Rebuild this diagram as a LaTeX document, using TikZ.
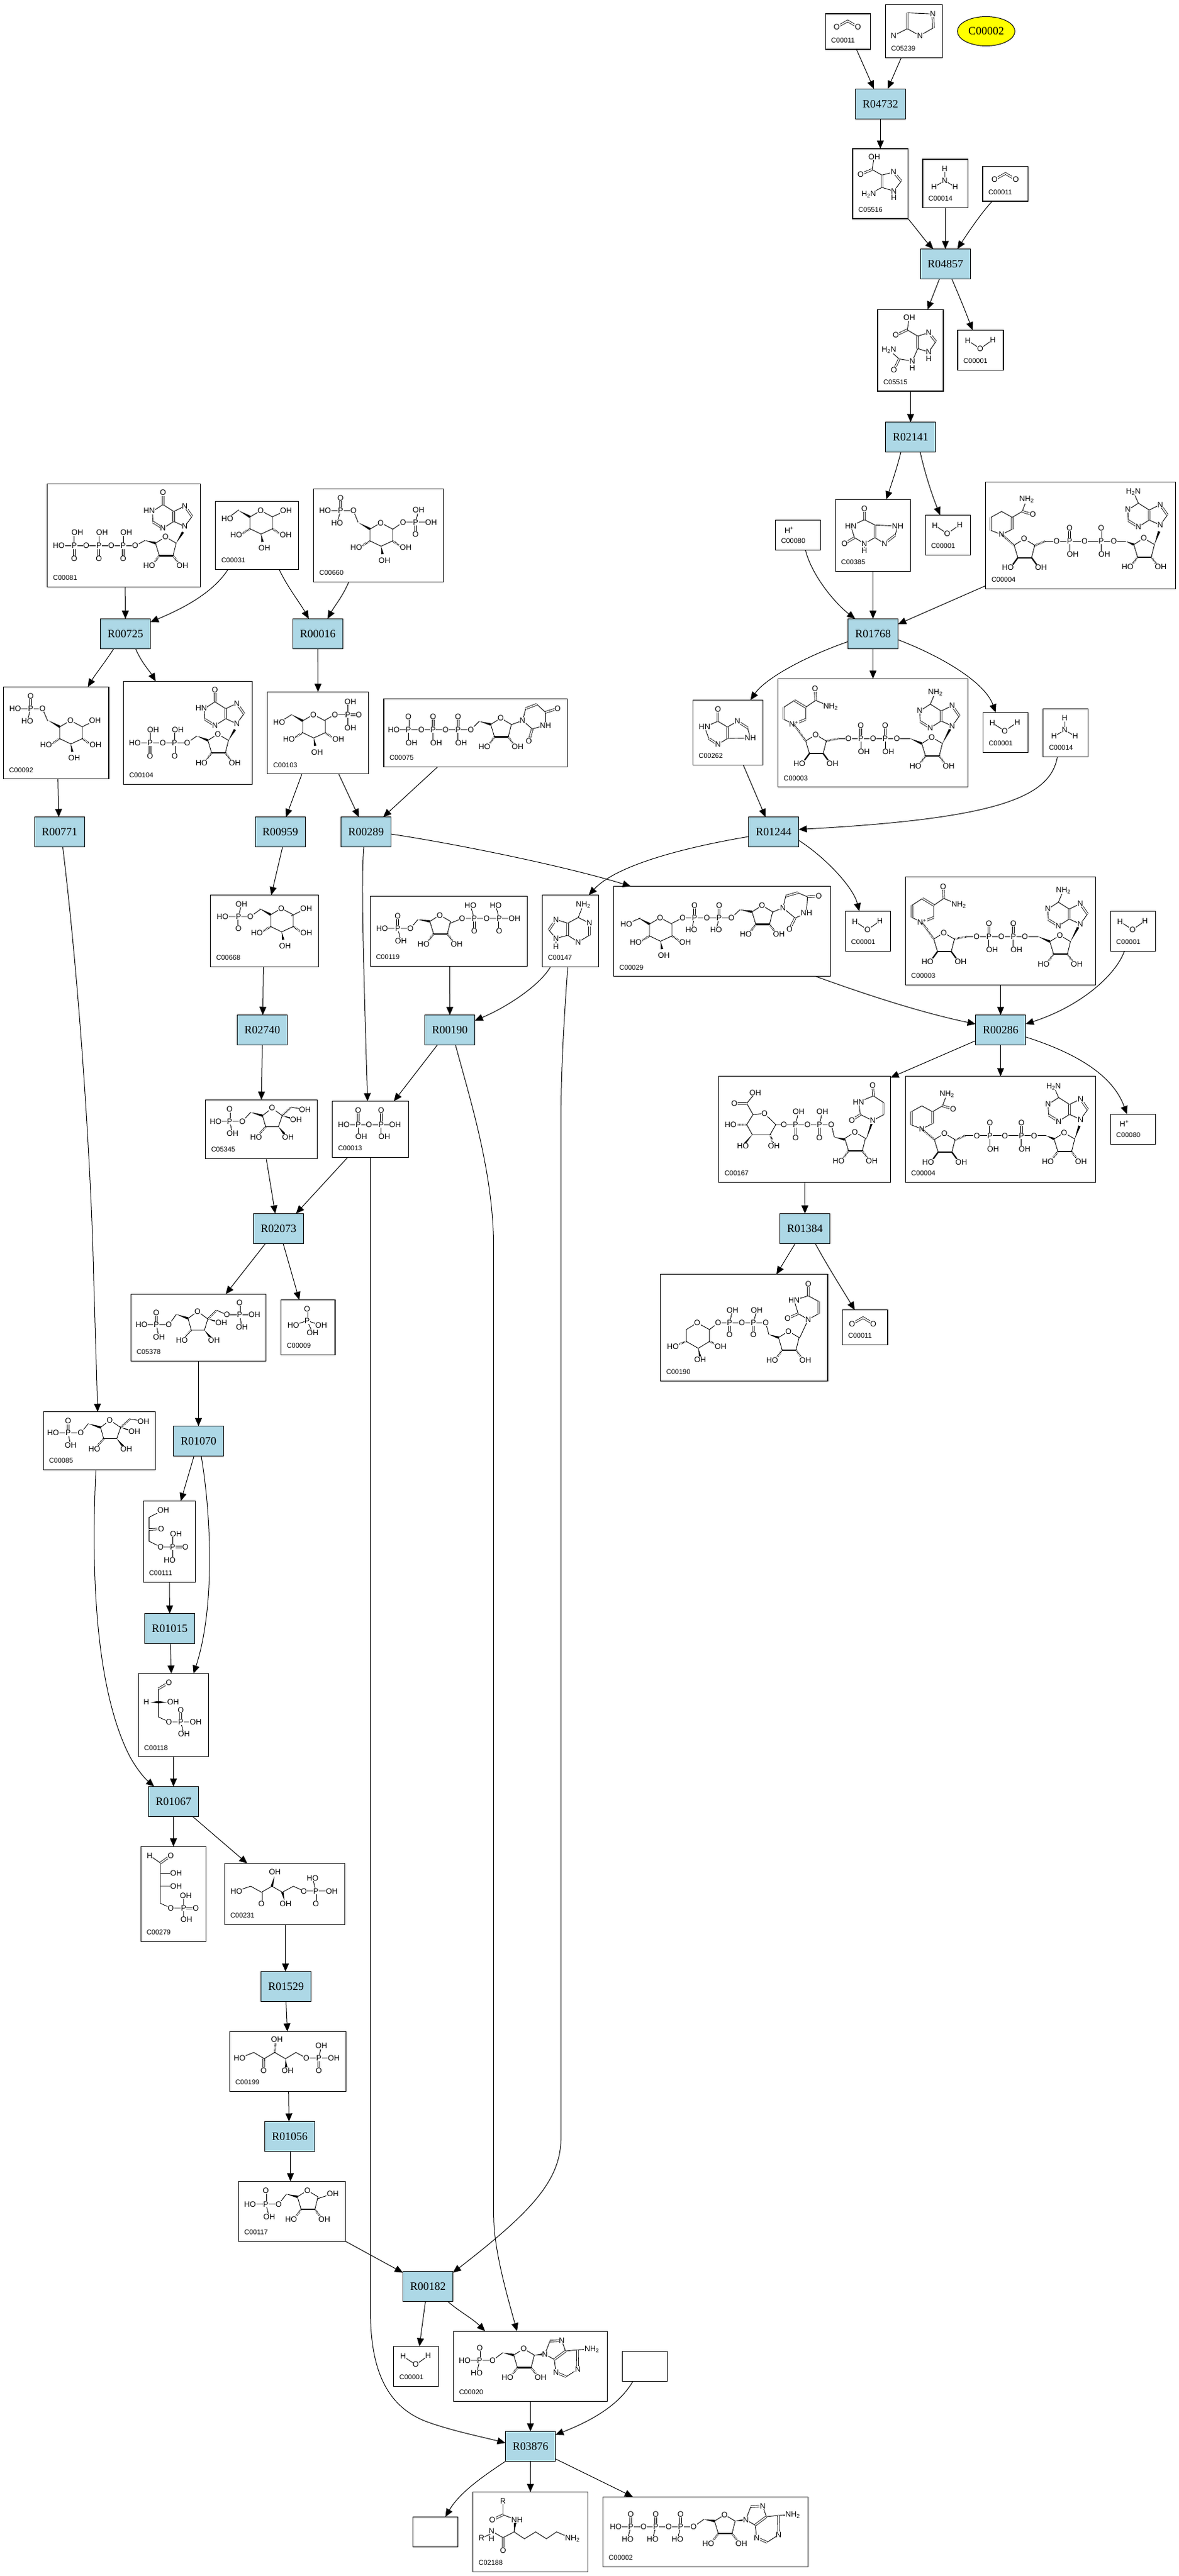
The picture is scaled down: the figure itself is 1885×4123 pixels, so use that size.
\documentclass[tikz,border=0pt]{standalone}
\usepackage{fontspec}
\setmainfont{Liberation Serif}
\setsansfont{Liberation Sans}
\usetikzlibrary{arrows.meta,calc,shapes.geometric}
\definecolor{cReact}{HTML}{ADD8E6}
\definecolor{cStart}{HTML}{FFFF00}
\tikzset{
	react/.style={draw,fill=cReact,line width=1.2pt,inner sep=0pt,outer sep=0pt,minimum width=80pt,minimum height=48pt,font=\fontsize{18}{20}\selectfont},
	cpdbox/.style={draw,fill=white,line width=1.2pt,inner sep=0pt,outer sep=0pt},
	cpdid/.style={anchor=west,inner sep=0pt,font=\sffamily\fontsize{11}{12}\selectfont},
	atomlab/.style={fill=white,inner sep=.6pt,font=\sffamily\fontsize{12.5}{13}\selectfont},
	edge/.style={line width=1pt,-{Triangle[length=13pt,width=11pt]}},
	bond/.style={line width=.9pt},
	bondb/.style={line width=2.2pt},
	dbl/.style={line width=.8pt,double,double distance=2pt},
	hashb/.style={line width=3pt,dash pattern=on .8pt off 1.4pt}
}
\newcount\atomno
\def\atm(#1,#2)#3{\global\advance\atomno by 1 \node[atomlab] (atom\the\atomno) at (#1,#2) {#3};}
\def\wdg(#1)(#2){\fill (#1) -- ($(#2)!1.9pt!90:(#1)$) -- ($(#2)!1.9pt!-90:(#1)$) -- cycle;}
\newcommand{\rct}[3]{\node[react] (#1) at (#2,#3) {#1};}
\newcommand{\cpd}[6]{\node[cpdbox,minimum width={(#5-#3)*1pt},minimum height={(#6-#4)*1pt}] (#1) at ({(#3+#5)/2},{(#4+#6)/2}) {};
	\node[cpdid] (#1id) at (#3+9,#6-14.5) {#2};}
\newcommand{\blankcpd}[5]{\node[cpdbox,minimum width={(#4-#2)*1pt},minimum height={(#5-#3)*1pt}] (#1) at ({(#2+#4)/2},{(#3+#5)/2}) {};}
\newcommand{\ribose}[3][hashb]{\begin{scope}[shift={(#2,#3)}]
	\draw[bond] (0,0)--(17,10)--(12,30) (0,0)--(-16,10)--(-10,30);
	\draw[bondb] (-10,30)--(12,30);
	\draw[#1] (-10,30)--(-18,41) (12,30)--(20,41);
	\atm(0,0){O} \atm(-26,46){HO} \atm(27,46){OH}
\end{scope}}
\newcommand{\pyran}[2]{\begin{scope}[shift={(#1,#2)}]
	\draw[bond] (0,0)--(19,10)--(19,29)--(.6,37.5)--(-17,29)--(-17,10)--(0,0);
	\wdg(-35,0)(-17,10)
	\draw[hashb] (-17,29)--(-30,37) (19,29)--(31,37);
	\wdg(.6,37.5)(3,50)
	\atm(0,0){O} \atm(-39,39){HO} \atm(40,39){OH} \atm(6,60){OH}
\end{scope}}
\newcommand{\phA}[2]{\begin{scope}[shift={(#1,#2)}]
	\draw[dbl] (0,-19)--(0,0); \draw[bond] (0,0)--(0,19);
	\atm(0,-21){O} \atm(5,21){OH} \atm(0,0){P}
\end{scope}}
\newcommand{\phB}[2]{\begin{scope}[shift={(#1,#2)}]
	\draw[dbl] (0,19)--(0,0); \draw[bond] (0,0)--(0,-19);
	\atm(0,21){O} \atm(5,-21){OH} \atm(0,0){P}
\end{scope}}
\newcommand{\purring}[2]{\begin{scope}[shift={(#1,#2)}]
	\draw[bond] (0,0)--(11.5,-16) (0,-32.6)--(-17.7,-24) (-17.7,-8)--(0,0) (-17.7,-24)--(-35,-35)--(-52,-24)--(-51,-7) (-35,3)--(-17.7,-8);
	\draw[dbl] (11.5,-16)--(0,-32.6) (-17.7,-24)--(-17.7,-8) (-51,-7)--(-35,3);
	\atm(0,0){N} \atm(0,-32.6){N} \atm(-35,3){N}
\end{scope}}
\newcommand{\hypox}[2]{\purring{#1}{#2}\begin{scope}[shift={(#1,#2)}]
	\draw[dbl] (-35,-35)--(-35,-53);
	\atm(-35,-54){O} \atm(-57,-25){HN}
\end{scope}}
\newcommand{\adenV}[5]{\purring{#1}{#2}\begin{scope}[shift={(#1,#2)}]
	\draw[bond] (-35,-35)--(#3,#4);
	\atm(-52,-25){N} \atm(#3,#4){#5}
\end{scope}}
\newcommand{\adenH}[2]{\begin{scope}[shift={(#1,#2)}]
	\draw[bond] (0,0)--(8,-21) (27,-22)--(33,-5) (15,8.5)--(0,0) (33,-5)--(52,-7)--(75,-8) (52.6,24)--(34,36) (17.6,29)--(15,8.5);
	\draw[dbl] (8,-21)--(27,-22) (33,-5)--(15,8.5) (52,-7)--(52.6,24) (34,36)--(17.6,29);
	\atm(0,0){N} \atm(27,-22){N} \atm(52.6,24){N} \atm(17.6,29){N} \atm(75,-8){NH\textsubscript{2}}
\end{scope}}
\newcommand{\cotwo}[2]{\begin{scope}[shift={(#1,#2)}]
	\draw[dbl] (-17.5,9.8)--(0,0)--(16.5,9.8);
	\atm(-17.5,9.8){O} \atm(16.5,9.8){O}
\end{scope}}
\newcommand{\ammonia}[2]{\begin{scope}[shift={(#1,#2)}]
	\draw[bond] (0,-19)--(0,0) (-17,10)--(0,0)--(17,10);
	\atm(0,-19){H} \atm(0,0){N} \atm(-17,10){H} \atm(17,10){H}
\end{scope}}
\newcommand{\water}[2]{\begin{scope}[shift={(#1,#2)}]
	\draw[bond] (-20,-13)--(0,0)--(20,-14);
	\atm(-20,-13){H} \atm(0,0){O} \atm(20,-14){H}
\end{scope}}
\newcommand{\nadplus}[2]{\begin{scope}[shift={(#1,#2)}]
	\draw[bond] (0,0)--(-16,-7.6) (-16,-27)--(1,-38) (19,-27)--(19,-7.6) (19,-27)--(35,-38)--(59,-28);
	\draw[dbl] (-16,-7.6)--(-16,-27) (1,-38)--(19,-27) (19,-7.6)--(0,0) (35,-38)--(34,-57);
	\atm(34,-57){O} \atm(59,-28){NH\textsubscript{2}} \atm(0,0){N\textsuperscript{+}}
	\draw[hashb] (0,0)--(19,27) (52,27)--(72,23);
	\ribose[bondb]{35}{17}
	\draw[bond] (72,23)--(186,23);
	\atm(87.5,23){O} \phA{107.2}{23} \atm(127,23){O} \phA{146.2}{23} \atm(164.8,23){O}
	\wdg(186,23)(204.5,31)
	\ribose{220.7}{21}
	\wdg(237.7,31)(250,8)
	\adenV{253.4}{3}{-27}{-54}{NH\textsubscript{2}}
\end{scope}}
\newcommand{\nadh}[2]{\begin{scope}[shift={(#1,#2)}]
	\draw[bond] (0,0)--(-17,-6.6) (-17,-27.6)--(0,-37)--(17,-27.6) (17,-8.6)--(0,0) (17,-27.6)--(33,-37)--(40,-56);
	\draw[dbl] (-17,-6.6)--(-17,-27.6) (17,-27.6)--(17,-8.6) (33,-37)--(50,-32);
	\atm(40,-56){NH\textsubscript{2}} \atm(50,-32){O} \atm(0,0){N}
	\draw[hashb] (0,0)--(20,17) (52.5,18)--(69.4,10.7);
	\ribose[bondb]{36}{7}
	\draw[bond] (69.4,10.7)--(199.2,10.7);
	\atm(88.1,10.7){O} \phA{108.8}{10.7} \atm(132.7,10.7){O} \phA{159.2}{10.7} \atm(179.5,10.7){O}
	\wdg(199.2,11)(211.5,16)
	\ribose{227.5}{6}
	\wdg(244.5,16)(252,-5)
	\adenV{253.8}{-15.3}{-43}{-53}{H\textsubscript{2}N}
\end{scope}}

\begin{document}
\begin{tikzpicture}[x=1pt,y=-1pt]
		\useasboundingbox (0,0) rectangle (1885,4123);
		% reactions
		\rct{R04732}{1408.3}{166.3}
		\rct{R04857}{1512.3}{422.5}
		\rct{R02141}{1456.6}{699.7}
		\rct{R00725}{200.6}{1014.4}
		\rct{R00016}{508.4}{1014.4}
		\rct{R01768}{1396.5}{1014.4}
		\rct{R00771}{95.4}{1331.7}
		\rct{R00959}{448.4}{1331.7}
		\rct{R00289}{585.7}{1331.7}
		\rct{R01244}{1237.6}{1331.7}
		\rct{R02740}{419.6}{1648.5}
		\rct{R00190}{719.6}{1648.5}
		\rct{R00286}{1600.6}{1648.5}
		\rct{R02073}{445.6}{1966.4}
		\rct{R01384}{1287.6}{1966.4}
		\rct{R01070}{317.5}{2306.6}
		\rct{R01015}{271.5}{2606.6}
		\rct{R01067}{277.5}{2883.5}
		\rct{R01529}{457.5}{3179.5}
		\rct{R01056}{463.5}{3419.5}
		\rct{R00182}{684.5}{3659.5}
		\rct{R03876}{848.5}{3915.5}
		% compounds
		\node[draw,ellipse,fill=cStart,line width=1pt,inner sep=0pt,outer sep=0pt,minimum width=92pt,minimum height=47pt,font=\fontsize{18}{20}\selectfont] (C00002) at (1577.5,50) {C00002};
		\cpd{C00011a}{C00011}{1320.5}{22}{1392.6}{79}
		\cpd{C05239}{C05239}{1416.5}{7.6}{1507.6}{92.4}
		\cpd{C05516}{C05516}{1364}{238}{1452.5}{350}
		\cpd{C00014a}{C00014}{1476}{255}{1548.5}{332.6}
		\cpd{C00011b}{C00011}{1572}{266.5}{1644.5}{322}
		\cpd{C05515}{C05515}{1404}{495.5}{1509}{626}
		\cpd{C00001a}{C00001}{1532}{528.6}{1605}{592.4}
		\cpd{C00081}{C00081}{75.7}{774.4}{320.5}{939.4}
		\cpd{C00031}{C00031}{344.8}{802.4}{477.5}{911.4}
		\cpd{C00660}{C00660}{501.7}{782.5}{709.6}{931.4}
		\cpd{C00092}{C00092}{5.5}{1099.4}{174}{1246.7}
		\cpd{C00104}{C00104}{197.6}{1090.5}{403.6}{1255.5}
		\cpd{C00103}{C00103}{427.8}{1107.4}{589.6}{1238.7}
		\cpd{C00075}{C00075}{613.9}{1118.5}{907.8}{1227.5}
		\cpd{C00385}{C00385}{1336.4}{799.3}{1456.6}{914.5}
		\cpd{C00080a}{C00080}{1240.4}{832.2}{1312.7}{880.4}
		\cpd{C00001b}{C00001}{1480.3}{824.6}{1552.5}{888.5}
		\cpd{C00004a}{C00004}{1576.8}{771.4}{1880.5}{942.4}
		\cpd{C00262}{C00262}{1108.4}{1120.4}{1220.7}{1224.5}
		\cpd{C00003a}{C00003}{1244.4}{1086.3}{1548.6}{1259.7}
		\cpd{C00001c}{C00001}{1572.3}{1140.3}{1644.5}{1204.6}
		\cpd{C00014b}{C00014}{1668.8}{1134.6}{1740.5}{1211.5}
		\cpd{C00668}{C00668}{336.7}{1432.6}{509.7}{1547.4}
		\cpd{C00119}{C00119}{592.3}{1434.5}{843.4}{1546.5}
		\cpd{C00147}{C00147}{867.3}{1432.6}{957.7}{1547.4}
		\cpd{C00029}{C00029}{981.6}{1418.5}{1328.7}{1562.7}
		\cpd{C00001d}{C00001}{1352.5}{1458.6}{1424.7}{1522.6}
		\cpd{C00003b}{C00003}{1448.5}{1403.3}{1752.6}{1576.2}
		\cpd{C00001e}{C00001}{1776.5}{1458.6}{1848.6}{1522.6}
		\cpd{C05345}{C05345}{328.6}{1760.2}{507.7}{1854.5}
		\cpd{C00013}{C00013}{531.6}{1762.6}{653.6}{1852.6}
		\cpd{C00167}{C00167}{1149.8}{1722.6}{1424.7}{1892.3}
		\cpd{C00004b}{C00004}{1448.5}{1722.6}{1752.6}{1892.3}
		\cpd{C00080b}{C00080}{1776.5}{1783.3}{1848.6}{1831.6}
		\cpd{C00190}{C00190}{1056.7}{2039.7}{1323.9}{2210.5}
		\cpd{C00011c}{C00011}{1347.7}{2096.7}{1419.9}{2152.5}
		\cpd{C05378}{C05378}{209.3}{2071.4}{425.7}{2178.6}
		\cpd{C00009}{C00009}{449.6}{2080.6}{535.9}{2168.4}
		\cpd{C00085}{C00085}{69.3}{2259.7}{248.6}{2352.5}
		\cpd{C00111}{C00111}{229.3}{2402.5}{312.7}{2532.6}
		\cpd{C00118}{C00118}{221.5}{2678.6}{333.8}{2811.7}
		\cpd{C00279}{C00279}{225.3}{2955.4}{329.7}{3107.5}
		\cpd{C00231}{C00231}{359.3}{2982.7}{551.7}{3080.3}
		\cpd{C00199}{C00199}{367.3}{3251.5}{553.7}{3347.6}
		\cpd{C00117}{C00117}{381.7}{3491.3}{552.7}{3587.3}
		\cpd{C00001f}{C00001}{629.7}{3755.4}{701.4}{3819.3}
		\cpd{C00020}{C00020}{725.3}{3731.2}{971.6}{3843.4}
		\blankcpd{blankA}{995.6}{3763.4}{1067.3}{3811.6}
		\blankcpd{blankB}{660.3}{4028.3}{732.5}{4076.2}
		\cpd{C02188}{C02188}{756.4}{3988.5}{940.5}{4116.4}
		\cpd{C00002b}{C00002}{964.5}{3996.2}{1292.6}{4108.3}
		% small molecules
		\cotwo{1356}{33.5} \cotwo{1608.4}{277.7} \cotwo{1380.5}{2109}
		\ammonia{1511.2}{289.3} \ammonia{1703.2}{1168.6}
		\water{1568}{558} \water{1515.3}{854} \water{1607.3}{1170} \water{1387.7}{1488} \water{1811.6}{1488} \water{665}{3784.6}
		\atm(1262.4,848.3){H\textsuperscript{+}} \atm(1798.5,1798.5){H\textsuperscript{+}}
		% C05239
		\draw[bond] (1492.2,22.3)--(1451.3,20.5) (1451.3,46)--(1471.5,57)--(1493,44.6) (1451.3,46)--(1429.4,57);
		\draw[dbl] (1451.3,20.5)--(1451.3,46) (1493,44.6)--(1492.2,22.3);
		\atm(1492.2,22.3){N} \atm(1471.5,57){N} \atm(1429.4,57){N}
		% C05516
		\draw[bond] (1398.6,251)--(1395,271.4)--(1410.8,280.3)--(1429.4,275.4) (1441.6,290)--(1429.8,305.8)--(1410.8,300)--(1389.7,311);
		\draw[dbl] (1395,271.4)--(1376.8,279) (1410.8,280.3)--(1410.8,300) (1429.4,275.4)--(1441.6,290);
		\draw[bond] (1429.8,305.8)--(1429.8,316);
		\atm(1398.6,251){OH} \atm(1376.8,279){O} \atm(1429.4,275.4){N} \atm(1429.8,305.8){N} \atm(1429.8,316){H} \atm(1389.7,311){H\textsubscript{2}N}
		% C05515
		\draw[bond] (1454.5,508.5)--(1451.3,528)--(1468,538)--(1485.7,532.6) (1497,546.8)--(1485.7,563.4)--(1468,558)--(1459.4,578)--(1438.3,574.5)--(1422,560);
		\draw[dbl] (1451.3,528)--(1433,536.6) (1468,538)--(1468,558) (1485.7,532.6)--(1497,546.8) (1438.3,574.5)--(1430,592.4);
		\atm(1454.5,508.5){OH} \atm(1433,536.6){O} \atm(1485.7,532.6){N} \atm(1485.7,563.4){N} \atm(1485.7,574){H} \atm(1459.4,578){N} \atm(1459.4,589){H} \atm(1422,560){H\textsubscript{2}N} \atm(1430,592.4){O}
		% C00081
		\draw[bond] (94,873.6)--(216,873.6)--(232,865);
		\atm(94,873.6){HO} \phB{118.8}{873.6} \atm(138,873.6){O} \phB{158.2}{873.6} \atm(178,873.6){O} \phB{197}{873.6} \atm(216.3,873.6){O}
		\wdg(232,865)(248.8,869.4)
		\ribose{264.8}{859.4} \wdg(281.8,869.4)(292.7,851.7)
		\hypox{295.7}{842.6}
		% C00031
		\draw[bond] (382,816)--(363.6,830) (436,827)--(457.5,817.3);
		\pyran{417}{817.3} \atm(363.6,830.3){HO} \atm(457.5,817.3){OH}
		% C00660
		\draw[bond] (520,817.3)--(565.4,817.3)--(572.7,835.7) (544.8,817.3)--(539.3,836.8) (628.4,847)--(644.8,835.7)--(689.6,835.7) (664.8,835.7)--(669.6,816.5);
		\draw[dbl] (544.8,817.3)--(544.8,797.4) (664.8,835.7)--(664.8,854.8);
		\pyran{609}{836.8}
		\atm(520,817.3){HO} \atm(544.8,817.3){P} \atm(565.4,817.3){O} \atm(544.8,797.4){O} \atm(539.3,836.8){HO} \atm(644.8,835.7){O} \atm(664.8,835.7){P} \atm(669.6,816.5){OH} \atm(689.6,835.7){OH} \atm(664.8,854.8){O}
		% C00092
		\draw[bond] (24.2,1134.2)--(67.9,1134.2)--(76.4,1154) (49,1134.2)--(43.6,1154) (132,1163)--(152,1153.3);
		\draw[dbl] (49,1134.2)--(49,1113.9);
		\pyran{112.7}{1153.3}
		\atm(24.2,1134.2){HO} \atm(49,1134.2){P} \atm(67.9,1134.2){O} \atm(49,1113.9){O} \atm(43.6,1154){HO} \atm(152,1153.3){OH}
		% C00104
		\draw[bond] (215.7,1189)--(299.4,1189)--(315,1178);
		\atm(215.7,1189){HO} \phB{240}{1189} \atm(260.6,1189){O} \phB{279.4}{1189} \atm(299.4,1189){O}
		\wdg(315,1178)(332.5,1185)
		\ribose{348.5}{1175} \wdg(365.4,1185)(375.7,1167.8)
		\hypox{378.8}{1158.3}
		% C00103
		\draw[bond] (466.6,1143.7)--(446.6,1156.4) (520,1152.5)--(535.7,1143.7)--(556.3,1143.7) (556.3,1122.7)--(556.3,1164.8);
		\draw[dbl] (556.3,1143.7)--(574,1143.7);
		\pyran{501.2}{1143.7}
		\atm(446.6,1156.4){HO} \atm(535.7,1143.7){O} \atm(556.3,1143.7){P} \atm(560.6,1122.7){OH} \atm(574,1143.7){O} \atm(560.6,1164.8){OH}
		% C00075
		\draw[bond] (630,1167.8)--(753.3,1167.8)--(766.6,1154.5) (818,1159.8)--(836,1153.3)--(841,1134) (858.7,1127.3)--(872.6,1140)--(872.6,1161)--(851.4,1166.7)--(836,1153.3);
		\draw[dbl] (841,1134)--(858.7,1127.3) (872.6,1140)--(892,1134) (851.4,1166.7)--(846,1186);
		\atm(630,1167.8){HO} \phA{653.3}{1167.8} \atm(673.9,1167.8){O} \phA{692.7}{1167.8} \atm(712.7,1167.8){O} \phA{732.7}{1167.8} \atm(753.3,1167.8){O}
		\wdg(766.6,1154.5)(785,1159.5)
		\ribose{801}{1149.5}
		\atm(836,1153.3){N} \atm(892,1134){O} \atm(872.6,1161){NH} \atm(846,1186){O}
		% C00385
		\draw[bond] (1382.7,831.8)--(1361,842)--(1366.9,860.5)--(1382.7,870)--(1399.6,860.5) (1382.7,831.8)--(1399.6,840.3)--(1436,842)--(1431.8,856.7) (1414.8,870)--(1399.6,860.5) (1382.7,870)--(1382.7,881.6);
		\draw[dbl] (1382.7,831.8)--(1382.7,813.9) (1366.9,860.5)--(1351,870) (1399.6,860.5)--(1399.6,840.3) (1431.8,856.7)--(1414.8,870);
		\atm(1382.7,813.9){O} \atm(1361,842){HN} \atm(1351,870){O} \atm(1382.7,870){N} \atm(1382.7,881.6){H} \atm(1436,842){NH} \atm(1414.8,870){N}
		% NAD and NADH
		\nadh{1602.2}{855.6} \nadh{1474.7}{1807}
		\nadplus{1269.8}{1159} \nadplus{1474.7}{1476}
		% C00262
		\draw[bond] (1148.4,1154.5)--(1127,1163.6)--(1133.8,1182) (1148.4,1191.6)--(1163.7,1182)--(1200.4,1181.3)--(1195.8,1164.8) (1148.4,1154.5)--(1163.7,1163.6)--(1179.5,1154.5);
		\draw[dbl] (1148.4,1154.5)--(1148.4,1135.3) (1133.8,1182)--(1148.4,1191.6) (1163.7,1163.6)--(1163.7,1182) (1179.5,1154.5)--(1195.8,1164.8);
		\atm(1148.4,1135.3){O} \atm(1127,1163.6){HN} \atm(1148.4,1191.6){N} \atm(1179.5,1154.5){N} \atm(1200.4,1181.3){NH}
		% C00668
		\draw[bond] (356,1467)--(400.5,1467)--(417.3,1455) (381.6,1467)--(386.2,1447) (465.8,1466)--(489.8,1454);
		\draw[dbl] (381.6,1467)--(381.6,1486);
		\pyran{450}{1454}
		\atm(356,1467){HO} \atm(381.6,1467){P} \atm(400.5,1467){O} \atm(386.2,1447){OH} \atm(381.6,1486){O} \atm(489.8,1454){OH}
		% C00119
		\draw[bond] (611.2,1486)--(656.6,1486)--(668.4,1471.8) (719.4,1478)--(739.3,1470)--(823,1470) (636.2,1486)--(641.3,1505.8) (758.7,1470)--(752.6,1449.4) (798.5,1470)--(792.9,1449.4);
		\draw[dbl] (636.2,1486)--(636.2,1466) (758.7,1470)--(758.7,1490) (798.5,1470)--(798.5,1490);
		\wdg(668.4,1471.8)(687.6,1474.7)
		\ribose{703.6}{1464.7}
		\atm(611.2,1486){HO} \atm(636.2,1486){P} \atm(656.6,1486){O} \atm(636.2,1466){O} \atm(641.3,1505.8){OH} \atm(739.3,1470){O} \atm(758.7,1470){P} \atm(778.6,1470){O} \atm(798.5,1470){P} \atm(823,1470){OH} \atm(752.6,1449.4){HO} \atm(758.7,1490){O} \atm(792.9,1449.4){HO} \atm(798.5,1490){O}
		% C00147
		\draw[bond] (925,1468.5)--(942.9,1477.6) (942.9,1497)--(925,1507.7) (908.2,1497)--(925,1507.7) (925,1468.5)--(908.2,1477.6)--(889.3,1471.8) (878,1488.6)--(889.3,1502)--(908.2,1497) (925,1468.5)--(933,1448.4) (889.3,1502)--(889.3,1515);
		\draw[dbl] (942.9,1477.6)--(942.9,1497) (908.2,1477.6)--(908.2,1497) (889.3,1471.8)--(878,1488.6);
		\atm(933,1448.4){NH\textsubscript{2}} \atm(942.9,1477.6){N} \atm(925,1507.7){N} \atm(889.3,1471.8){N} \atm(889.3,1502){N} \atm(889.3,1515){H}
		% C00029
		\draw[bond] (1024.5,1469.4)--(1001.9,1479) (1075.2,1477.6)--(1092,1469)--(1170,1469)--(1183.7,1456) (1236.2,1459.7)--(1252.3,1453)--(1257,1434.2) (1276,1428.8)--(1291.7,1435.3)--(1290,1461.3)--(1272,1469.4)--(1252.3,1453) (1111,1469)--(1106,1488.4) (1150.4,1469)--(1145.4,1488.4);
		\draw[dbl] (1111,1469)--(1111,1449.4) (1150.4,1469)--(1150.4,1449.4) (1257,1434.2)--(1276,1428.8) (1291.7,1435.3)--(1309.6,1434.2) (1272,1469.4)--(1263,1486.8);
		\pyran{1056}{1469}
		\wdg(1183.7,1456)(1203,1459.4)
		\ribose{1219}{1449.4}
		\atm(1001.9,1479){HO} \atm(1092,1469){O} \atm(1111,1469){P} \atm(1130.7,1469){O} \atm(1150.4,1469){P} \atm(1170,1469){O} \atm(1111,1449.4){O} \atm(1106,1488.4){HO} \atm(1150.4,1449.4){O} \atm(1145.4,1488.4){HO} \atm(1252.3,1453){N} \atm(1309.6,1434.2){O} \atm(1290,1461.3){NH} \atm(1263,1486.8){O}
		% C05345
		\draw[bond] (345,1794.7)--(387.8,1794.7)--(401,1780.3) (435.2,1773.6)--(419.9,1785.6)--(425,1803.3)--(445.4,1803.3)--(451.5,1785.6)--(435.2,1773.6) (465.8,1772)--(487.8,1776) (367.3,1794.7)--(372,1814.3);
		\draw[dbl] (367.3,1794.7)--(367.3,1775.6);
		\wdg(401,1780.3)(419.9,1785.6)
		\wdg(451.5,1785.6)(473.5,1792.3)
		\draw[hashb] (451.5,1785.6)--(465.8,1772) (425,1803.3)--(415,1815);
		\wdg(445.4,1803.3)(455,1815)
		\atm(435.2,1773.6){O} \atm(345,1794.7){HO} \atm(367.3,1794.7){P} \atm(387.8,1794.7){O} \atm(367.3,1775.6){O} \atm(372,1814.3){OH} \atm(487.8,1776){OH} \atm(473.5,1792.3){OH} \atm(409.7,1820){HO} \atm(460.7,1820){OH}
		% C00013
		\draw[bond] (550,1800)--(632.1,1800) (573,1800)--(573,1819) (609.7,1800)--(609.7,1819);
		\draw[dbl] (573,1800)--(573,1777) (609.7,1800)--(609.7,1777);
		\atm(550,1800){HO} \atm(573,1800){P} \atm(590.3,1800){O} \atm(609.7,1800){P} \atm(632.1,1800){OH} \atm(573,1777){O} \atm(609.7,1777){O} \atm(578,1819){OH} \atm(614.8,1819){OH}
		% C00167
		\draw[bond] (1223,1782.2)--(1241,1800)--(1232,1816)--(1203.4,1816)--(1194.5,1800)--(1204.6,1783.9)--(1223,1782.2) (1204.6,1783.9)--(1194.5,1766)--(1208.2,1749.2) (1241,1800)--(1254,1800)--(1329.8,1800)--(1334.6,1820) (1272.6,1800)--(1277.4,1779.5) (1310.8,1800)--(1315.5,1779.5) (1396,1793.6)--(1413.9,1783.9) (1413.9,1765)--(1397.2,1754)--(1373.4,1763.8)--(1376.4,1783.9)--(1396,1793.6);
		\draw[dbl] (1194.5,1766)--(1174.8,1766) (1272.6,1800)--(1272.6,1820.7) (1310.8,1800)--(1310.8,1820.7) (1413.9,1783.9)--(1413.9,1765) (1397.2,1754)--(1396,1736.7) (1376.4,1783.9)--(1362.6,1793);
		\draw[hashb] (1194.5,1800)--(1168.8,1800) (1232,1816)--(1238,1833.7);
		\wdg(1203.4,1816)(1188.5,1833.7)
		\wdg(1334.6,1820)(1351.4,1824)
		\ribose{1367.4}{1812}
		\wdg(1385.3,1824.5)(1396,1793.6)
		\atm(1223,1782.2){O} \atm(1174.8,1766){O} \atm(1208.2,1749.2){OH} \atm(1168.8,1800){HO} \atm(1188.5,1833.7){HO} \atm(1238,1833.7){OH} \atm(1254,1800){O} \atm(1272.6,1800){P} \atm(1291.7,1800){O} \atm(1310.8,1800){P} \atm(1329.8,1800){O} \atm(1277.4,1779.5){OH} \atm(1272.6,1820.7){O} \atm(1315.5,1779.5){OH} \atm(1310.8,1820.7){O} \atm(1396,1793.6){N} \atm(1396,1736.7){O} \atm(1373.4,1763.8){HN} \atm(1362.6,1793){O}
		% C00190
		\draw[bond] (1115.2,2117.3)--(1134.9,2128)--(1134.9,2147)--(1117,2158)--(1097.9,2147)--(1097.9,2128)--(1115.2,2117.3) (1134.9,2128)--(1148.6,2117.3)--(1224.9,2117.3)--(1230,2136) (1167,2117.3)--(1171.8,2097) (1205.2,2117.3)--(1210.6,2097) (1279,2141.6)--(1292.9,2111.8)--(1309.6,2102.6) (1309.6,2083)--(1292.9,2074)--(1270.2,2081)--(1276.8,2102.6)--(1292.9,2111.8);
		\draw[dbl] (1167,2117.3)--(1167,2136) (1205.2,2117.3)--(1205.2,2136) (1309.6,2102.6)--(1309.6,2083) (1292.9,2074)--(1292.9,2055) (1276.8,2102.6)--(1260,2110);
		\draw[hashb] (1097.9,2147)--(1076.4,2155) (1134.9,2147)--(1152.7,2155);
		\wdg(1117,2158)(1120,2172)
		\wdg(1230,2136)(1245.3,2140.8)
		\ribose{1261.3}{2130.8}
		\atm(1115.2,2117.3){O} \atm(1148.6,2117.3){O} \atm(1167,2117.3){P} \atm(1186.7,2117.3){O} \atm(1205.2,2117.3){P} \atm(1224.9,2117.3){O} \atm(1171.8,2097){OH} \atm(1167,2136){O} \atm(1210.6,2097){OH} \atm(1205.2,2136){O} \atm(1076.4,2155){HO} \atm(1152.7,2155){OH} \atm(1120,2175.8){OH} \atm(1292.9,2111.8){N} \atm(1292.9,2055){O} \atm(1270.2,2081){HN} \atm(1260,2110){O}
		% C05378
		\draw[bond] (226.5,2120.4)--(270,2120.4)--(282.2,2103.6) (316,2099)--(300.8,2110.2)--(306,2129)--(327,2129)--(332.4,2111)--(316,2099) (346.4,2097)--(363,2104.6)--(407,2104.6) (250,2120.4)--(254.2,2139.8) (383.3,2104.6)--(387,2124.5);
		\draw[dbl] (250,2120.4)--(250,2101) (383.3,2104.6)--(383.3,2084.7);
		\wdg(282.2,2103.6)(300.8,2110.2)
		\wdg(332.4,2111)(354,2117.3)
		\draw[hashb] (332.4,2111)--(346.4,2097) (306,2129)--(296,2140);
		\wdg(327,2129)(337,2141)
		\atm(316,2099){O} \atm(226.5,2120.4){HO} \atm(250,2120.4){P} \atm(270,2120.4){O} \atm(250,2101){O} \atm(254.2,2139.8){OH} \atm(363,2104.6){O} \atm(383.3,2104.6){P} \atm(407,2104.6){OH} \atm(383.3,2084.7){O} \atm(387,2124.5){OH} \atm(354,2117.3){OH} \atm(291,2145.4){HO} \atm(342.2,2145.4){OH}
		% C00009
		\draw[bond] (469.2,2121.4)--(491.3,2113.8)--(513.8,2121.4) (491.3,2113.8)--(500,2133);
		\draw[dbl] (491.3,2113.8)--(491.3,2095);
		\atm(491.3,2113.8){P} \atm(491.3,2095){O} \atm(469.2,2121.4){HO} \atm(513.8,2121.4){OH} \atm(500,2133){OH}
		% C00085
		\draw[bond] (85,2293.4)--(129.3,2293.4)--(141.2,2278.6) (175.6,2273)--(160.9,2284.7)--(165.8,2302.6)--(186.8,2302.6)--(193,2284.7)--(175.6,2273) (207.9,2271)--(229.6,2275) (109,2293.4)--(113,2313.3);
		\draw[dbl] (109,2293.4)--(109,2274.5);
		\wdg(141.2,2278.6)(160.9,2284.7)
		\wdg(193,2284.7)(214.9,2291.3)
		\draw[hashb] (193,2284.7)--(207.9,2271) (165.8,2302.6)--(156,2314);
		\wdg(186.8,2302.6)(197,2315)
		\atm(175.6,2273){O} \atm(85,2293.4){HO} \atm(109,2293.4){P} \atm(129.3,2293.4){O} \atm(109,2274.5){O} \atm(113,2313.3){OH} \atm(229.6,2275){OH} \atm(214.9,2291.3){OH} \atm(151,2319.4){HO} \atm(201.9,2319.4){OH}
		% C00111
		\draw[bond] (261.2,2416.8)--(238.4,2428.6)--(238.4,2466.8)--(257,2476)--(276.3,2476) (276.3,2455)--(276.3,2497.4);
		\draw[dbl] (238.4,2448)--(257.7,2447) (276.3,2476)--(296.6,2476);
		\atm(261.2,2416.8){OH} \atm(257.7,2447){O} \atm(257,2476){O} \atm(276.3,2476){P} \atm(296.6,2476){O} \atm(281.5,2455){OH} \atm(271.4,2497.4){HO}
		% C00118
		\draw[bond] (253.5,2703)--(253.5,2748)--(270.3,2756)--(313,2756) (289.2,2756)--(294.2,2775.5);
		\draw[dbl] (253.5,2703)--(270.3,2692.9) (289.2,2756)--(289.2,2737);
		\wdg(241,2724.5)(253.5,2724.5)
		\wdg(267,2724.5)(253.5,2724.5)
		\atm(270.3,2692.9){O} \atm(234.2,2724.5){H} \atm(277,2724.5){OH} \atm(270.3,2756){O} \atm(289.2,2756){P} \atm(313,2756){OH} \atm(289.2,2737){O} \atm(294.2,2775.5){OH}
		% C00279
		\draw[bond] (239.3,2969.8)--(256.7,2981.8)--(256.7,3046.3)--(273.3,3054)--(293.7,3054) (256.7,2998.5)--(281.7,2998.5) (256.7,3019)--(281.7,3019) (293.7,3034)--(293.7,3072.6);
		\draw[dbl] (256.7,2981.8)--(273.3,2969.8) (293.7,3054)--(313.3,3054);
		\atm(239.3,2969.8){H} \atm(273.3,2969.8){O} \atm(281.7,2998.5){OH} \atm(281.7,3019){OH} \atm(273.3,3054){O} \atm(293.7,3054){P} \atm(313.3,3054){O} \atm(297.3,3034){OH} \atm(298.3,3072.6){OH}
		% C00231
		\draw[bond] (378.3,3026.7)--(401,3019)--(418.3,3028.6)--(435,3019)--(451.7,3028.6)--(469.3,3019)--(486,3026.7)--(530.7,3026.7) (505.3,3026.7)--(500,3006);
		\draw[dbl] (418.3,3028.6)--(418.3,3046.8) (505.3,3026.7)--(505.3,3046.8);
		\wdg(439,3003)(435,3019)
		\wdg(455,3042)(451.7,3028.6)
		\atm(378.3,3026.7){HO} \atm(418.3,3046.8){O} \atm(439.7,2996.6){OH} \atm(456.7,3046.8){OH} \atm(486,3026.7){O} \atm(505.3,3026.7){P} \atm(500,3006){HO} \atm(530.7,3026.7){OH} \atm(505.3,3046.8){O}
		% C00199
		\draw[bond] (383.3,3294)--(406,3285)--(422.7,3295)--(439.3,3285)--(456.7,3295)--(473.3,3285)--(490,3294)--(534,3294) (510,3294)--(514,3274.5);
		\draw[dbl] (422,3295)--(421.7,3314) (510,3294)--(510,3314);
		\draw[hashb] (439.3,3285)--(441,3270);
		\wdg(456.7,3295)(458,3309)
		\atm(383.3,3294){HO} \atm(421.7,3314){O} \atm(443,3264.4){OH} \atm(460,3314){OH} \atm(490,3294){O} \atm(510,3294){P} \atm(514,3274.5){OH} \atm(534,3294){OH} \atm(510,3314){O}
		% C00117
		\draw[bond] (400,3527.7)--(445.7,3527.7)--(458.3,3511.7) (425.3,3527.7)--(430.7,3548.3) (507.3,3519.3)--(532.3,3511);
		\draw[dbl] (425.3,3527.7)--(425.3,3506);
		\wdg(458.3,3511.7)(475.7,3516)
		\ribose{491.7}{3506}
		\atm(400,3527.7){HO} \atm(425.3,3527.7){P} \atm(445.7,3527.7){O} \atm(425.3,3506){O} \atm(430.7,3548.3){OH} \atm(532.3,3511){OH}
		% C00020
		\draw[bond] (743.5,3778)--(788,3778)--(804.2,3765.6) (767.4,3778)--(762.6,3797.7);
		\draw[dbl] (767.4,3778)--(767.4,3758.3);
		\wdg(804.2,3765.6)(821.7,3769.4)
		\ribose{837.7}{3759.4}
		\wdg(854.7,3769.4)(871.7,3768)
		\adenH{871.7}{3768}
		\atm(743.5,3778){HO} \atm(767.4,3778){P} \atm(788,3778){O} \atm(767.4,3758.3){O} \atm(762.6,3797.7){HO}
		% C02188
		\draw[bond] (804.7,4003)--(804.7,4025)--(825.8,4033) (825.8,4033)--(822.4,4052.4) (822.4,4052.4)--(804.7,4061.6)--(786.5,4051.3) (786.5,4055)--(770.3,4062.3) (822.4,4052.4)--(839,4063.4)--(856.9,4052.4)--(874,4063.4)--(890.3,4052.4)--(915.7,4063.4);
		\draw[dbl] (804.7,4025)--(787.5,4033) (804.7,4061.6)--(804.7,4081.7);
		\wdg(822.4,4052.4)(824,4038)
		\atm(804.7,4003){R} \atm(787.5,4033){O} \atm(827,4033){NH} \atm(786.5,4051.3){N} \atm(786.5,4063.4){H} \atm(770.3,4062.3){R} \atm(804.7,4081.7){O} \atm(915.7,4063.4){NH\textsubscript{2}}
		% C00002
		\draw[bond] (985,4044)--(1109.4,4044)--(1126,4032.3);
		\atm(985,4044){HO} \atm(1029.5,4044){O} \atm(1069.7,4044){O} \atm(1109.4,4044){O}
		\foreach \px in {1009,1049,1088.8}{
			\draw[dbl] (\px,4044)--(\px,4024);
			\draw[bond] (\px,4044)--(\px-5,4064);
			\atm(\px,4024){O} \atm(\px-5,4064){HO} \atm(\px,4044){P}
		}
		\wdg(1126,4032.3)(1143,4035)
		\ribose{1159}{4025}
		\wdg(1176,4035)(1193,4033)
		\adenH{1193}{4033}
		% connectors, top part
		\draw[edge] ([xshift=13.5pt]C00011a.south) -- ([xshift=-10.3pt]R04732.north);
		\draw[edge] ([xshift=-20.4pt]C05239.south) -- ([xshift=11.7pt]R04732.north);
		\draw[edge] (R04732.south) -- (C05516.north);
		\draw[edge] (C05516.south east) .. controls (1465,365) and (1480,385) .. ([xshift=-19.3pt]R04857.north);
		\draw[edge] (C00014a.south) -- (R04857.north);
		\draw[edge] ([xshift=-21pt]C00011b.south) .. controls (1572,338) and (1550,370) .. ([xshift=19.2pt]R04857.north);
		\draw[edge] ([xshift=-9.6pt]R04857.south) -- ([xshift=27.2pt]C05515.north);
		\draw[edge] ([xshift=10.3pt]R04857.south) .. controls (1535,475) and (1545,500) .. ([xshift=-12.7pt]C00001a.north);
		\draw[edge] (C05515.south) -- (R02141.north);
		\draw[edge] ([xshift=-15.6pt]R02141.south) .. controls (1436,745) and (1426,775) .. ([xshift=21.2pt]C00385.north);
		\draw[edge] ([xshift=15.4pt]R02141.south) .. controls (1480,760) and (1492,795) .. ([xshift=-12.4pt]C00001b.north);
		\draw[edge] ([xshift=11.9pt]C00080a.south) .. controls (1298,920) and (1335,965) .. ([xshift=-28.5pt]R01768.north);
		\draw[edge] (C00385.south) -- (R01768.north);
		\draw[edge] ([yshift=5pt]C00004a.south west) -- ([yshift=15.4pt]R01768.east);
		\draw[edge] ([yshift=-12.6pt]R01768.west) .. controls (1290,1050) and (1225,1085) .. ([xshift=35.9pt]C00262.north);
		\draw[edge] (R01768.south) -- (C00003a.north);
		\draw[edge] ([yshift=-9.6pt]R01768.east) .. controls (1500,1048) and (1575,1090) .. ([xshift=-15.8pt]C00001c.north);
		\draw[edge] ([xshift=24.5pt]C00262.south) -- ([xshift=-13pt]R01244.north);
		\draw[edge] ([xshift=-13.2pt]C00014b.south) .. controls (1680,1275) and (1600,1310) .. ([yshift=4.2pt]R01244.east);
		\draw[edge] ([yshift=-13.3pt]R01244.east) .. controls (1320,1372) and (1365,1420) .. ([xshift=-14pt]C00001d.north);
		\draw[edge] ([yshift=-7.3pt]R01244.west) .. controls (1120,1352) and (990,1380) .. ([xshift=29.3pt]C00147.north);
		\draw[edge] ([yshift=-3.3pt]R00289.east) .. controls (720,1349) and (900,1385) .. ([xshift=-146.2pt]C00029.north);
		% left part
		\draw[edge] ([xshift=2pt]C00081.south) -- (R00725.north);
		\draw[edge] ([xshift=-46.4pt]C00031.south) .. controls (340,950) and (290,975) .. ([yshift=18.8pt]R00725.east);
		\draw[edge] ([xshift=35.4pt]C00031.south) .. controls (460,940) and (480,965) .. ([xshift=-14.5pt]R00016.north);
		\draw[edge] ([xshift=-47.7pt]C00660.south) .. controls (548,955) and (535,970) .. ([xshift=15.6pt]R00016.north);
		\draw[edge] ([xshift=-18.8pt]R00725.south) .. controls (168,1060) and (152,1080) .. ([xshift=50.8pt]C00092.north);
		\draw[edge] ([xshift=16.4pt]R00725.south) .. controls (226,1060) and (240,1075) .. ([xshift=-51.6pt]C00104.north);
		\draw[edge] (R00016.south) -- (C00103.north);
		\draw[edge] ([xshift=-25.7pt]C00103.south) -- ([xshift=9.1pt]R00959.north);
		\draw[edge] ([xshift=33.1pt]C00103.south) -- ([xshift=-11.7pt]R00289.north);
		\draw[edge] ([xshift=-60.9pt]C00075.south) -- ([xshift=27.3pt]R00289.north);
		\draw[edge] ([xshift=2.9pt]C00092.south) -- ([xshift=-1.4pt]R00771.north);
		\draw[edge] ([xshift=5pt]R00771.south) .. controls (130,1600) and (147,1900) .. (150,2050) -- ([xshift=-2.7pt]C00085.north);
		\draw[edge] ([xshift=3.6pt]R00959.south) -- ([xshift=10.8pt]C00668.north);
		\draw[edge] ([xshift=-3.7pt]R00289.south) .. controls (578,1400) and (580,1500) .. ([xshift=-4.6pt]C00013.north);
		\draw[edge] ([xshift=-1.8pt]C00668.south) -- ([xshift=.8pt]R02740.north);
		\draw[edge] (R02740.south) -- (C05345.north);
		\draw[edge] ([xshift=1.5pt]C00119.south) -- (R00190.north);
		\draw[edge] ([xshift=-31.9pt]C00147.south) .. controls (865,1575) and (815,1610) .. ([yshift=15pt]R00190.east);
		\draw[edge] ([xshift=-4.3pt]C00147.south) .. controls (901,1650) and (897.3,1720) .. (897.3,1800) -- (897.3,3422) .. controls (897.3,3490) and (850,3540) .. ([yshift=-2pt]R00182.north east);
		\draw[edge] ([xshift=-20pt]R00190.south) -- ([xshift=37.4pt]C00013.north);
		\draw[edge] ([xshift=9pt]R00190.south) .. controls (755,1770) and (789.7,1880) .. (789.7,2000) -- (789.7,3547) .. controls (790,3600) and (810,3670) .. ([xshift=-21.4pt]C00020.north);
		\draw[edge] ([xshift=7.8pt]C05345.south) -- ([xshift=-5.3pt]R02073.north);
		\draw[edge] ([xshift=-36.6pt]C00013.south) -- ([xshift=27.9pt]R02073.north);
		\draw[edge] (C00013.south) -- (592.6,3700) .. controls (592.6,3810) and (630,3855) .. (680,3875) .. controls (720,3890) and (770,3900) .. ([yshift=5.5pt]R03876.west);
		\draw[edge] ([xshift=-21pt]R02073.south) -- ([xshift=43.5pt]C05378.north);
		\draw[edge] ([xshift=7.4pt]R02073.south) -- ([xshift=-14pt]C00009.north);
		\draw[edge] (C05378.south) -- (R01070.north);
		\draw[edge] ([xshift=-5.5pt]C00085.south) .. controls (146,2500) and (150,2700) .. (208,2812) .. controls (218,2830) and (230,2845) .. ([xshift=-30.8pt]R01067.north);
		\draw[edge] ([xshift=-7.2pt]R01070.south) -- ([xshift=18.2pt]C00111.north);
		\draw[edge] ([xshift=4.4pt]R01070.south) .. controls (337,2420) and (345,2570) .. ([xshift=32pt]C00118.north);
		\draw[edge] (C00111.south) -- (R01015.north);
		\draw[edge] ([xshift=.9pt]R01015.south) -- ([xshift=-3.6pt]C00118.north);
		\draw[edge] (C00118.south) -- (R01067.north);
		\draw[edge] (R01067.south) -- (C00279.north);
		\draw[edge] ([xshift=30.8pt]R01067.south) -- ([xshift=-59.8pt]C00231.north);
		\draw[edge] ([xshift=1.2pt]C00231.south) -- ([xshift=-.8pt]R01529.north);
		\draw[edge] (R01529.south) -- ([xshift=-.8pt]C00199.north);
		\draw[edge] ([xshift=1.2pt]C00199.south) -- ([xshift=-1.2pt]R01056.north);
		\draw[edge] ([xshift=1pt]R01056.south) -- ([xshift=-2.5pt]C00117.north);
		% bottom part
		\draw[edge] (C00117.south east) -- ([yshift=-2pt]R00182.north west);
		\draw[edge] ([xshift=-4pt]R00182.south) -- ([xshift=5.3pt]C00001f.north);
		\draw[edge] ([xshift=31.7pt]R00182.south) .. controls (735,3700) and (755,3710) .. ([xshift=-72.4pt]C00020.north);
		\draw[edge] (C00020.south) -- (R03876.north);
		\draw[edge] ([xshift=-19.2pt]blankA.south) .. controls (990,3850) and (945,3875) .. ([yshift=-5.5pt]R03876.north east);
		\draw[edge] (R03876.south west) .. controls (770,3965) and (735,3990) .. ([xshift=16pt]blankB.north);
		\draw[edge] (R03876.south) -- (C02188.north);
		\draw[edge] ([yshift=-20pt]R03876.east) -- ([xshift=-116.2pt]C00002b.north);
		% right part
		\draw[edge] (C00003b.south) -- (R00286.north);
		\draw[edge] ([xshift=-14pt]C00001e.south) .. controls (1785,1560) and (1730,1610) .. ([yshift=9.5pt]R00286.east);
		\draw[edge] ([xshift=149.6pt]C00029.south) .. controls (1380,1590) and (1470,1620) .. ([yshift=9.5pt]R00286.west);
		\draw[edge] ([yshift=-17.2pt]R00286.west) -- ([yshift=-2pt]C00167.north east);
		\draw[edge] (R00286.south) -- (C00004b.north);
		\draw[edge] ([yshift=-11.2pt]R00286.east) .. controls (1720,1685) and (1780,1720) .. ([xshift=-9.9pt]C00080b.north);
		\draw[edge] (C00167.south) -- (R01384.north);
		\draw[edge] ([xshift=-15.6pt]R01384.south) -- ([xshift=51.7pt]C00190.north);
		\draw[edge] ([xshift=16.6pt]R01384.south) .. controls (1320,2020) and (1345,2060) .. ([xshift=-16.4pt]C00011c.north);
\end{tikzpicture}
\end{document}
